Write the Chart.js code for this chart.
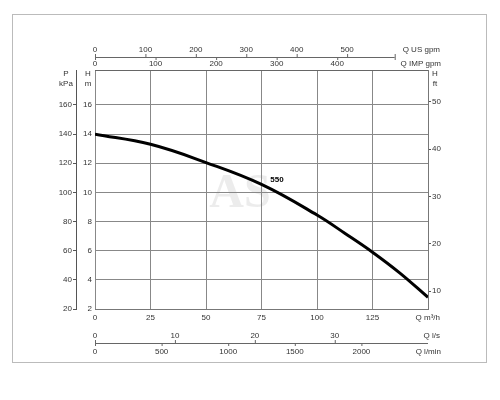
<!DOCTYPE html>
<html><head><script src="https://cdn.jsdelivr.net/npm/chart.js@4"></script>
<style>body{margin:0;background:#fff}#w{width:500px;height:400px}</style></head>
<body><div id="w"><canvas id="c"></canvas></div>
<script>
const flowM3h = [0, 25, 50, 75, 100, 112.5, 125, 137.5, 150];
const headM   = [14.0, 13.3, 12.05, 10.55, 8.45, 7.2, 5.9, 4.45, 2.8];
const curveName = "550";
const qTicks = [0, 25, 50, 75, 100, 125];
const hTicks = [2, 4, 6, 8, 10, 12, 14, 16];
const usGpm = [0, 100, 200, 300, 400, 500];
const impGpm = [0, 100, 200, 300, 400];
const lps = [0, 10, 20, 30];
const lpm = [0, 500, 1000, 1500, 2000];
const FONT = "Liberation Sans, Arial, sans-serif";
const C = "#333";

const extras = {
  id: "extras",
  beforeDraw(ch) {
    const g = ch.ctx; g.save();
    g.strokeStyle = "#bbb"; g.lineWidth = 1;
    g.strokeRect(12.5, 14.5, 474, 348);
    g.fillStyle = "rgba(200,200,200,0.35)";
    g.font = "bold 48px Liberation Serif, serif"; g.textAlign = "center"; g.textBaseline = "middle";
    g.fillText("AS", 240, 195);
    g.restore();
  },
  afterDraw(ch) {
    const g = ch.ctx, x = ch.scales.x, a = ch.chartArea;
    g.save(); g.fillStyle = C; g.strokeStyle = "#666"; g.lineWidth = 1;
    g.beginPath(); g.moveTo(a.left, a.top + 0.5); g.lineTo(a.right, a.top + 0.5); g.stroke();
    g.font = "8px " + FONT; g.textBaseline = "middle";
    const px = v => x.getPixelForValue(v);
    let y = 57;
    g.beginPath(); g.moveTo(px(0), y+0.5); g.lineTo(px(135), y+0.5); g.stroke();
    g.textAlign = "center";
    usGpm.forEach(v => { const p = px(v / 4.403); g.beginPath(); g.moveTo(p+0.5, y-3); g.lineTo(p+0.5, y); g.stroke(); g.fillText(v, p, y-7); });
    impGpm.forEach(v => { const p = px(v / 3.666); g.beginPath(); g.moveTo(p+0.5, y); g.lineTo(p+0.5, y+3); g.stroke(); g.fillText(v, p, y+7); });
    g.beginPath(); g.moveTo(px(135)+0.5, y-3); g.lineTo(px(135)+0.5, y+3); g.stroke();
    g.textAlign = "right"; g.fillText("Q US gpm", 440, y-7); g.fillText("Q IMP gpm", 441, y+7);
    y = 343;
    g.beginPath(); g.moveTo(px(0), y+0.5); g.lineTo(px(150), y+0.5); g.stroke();
    g.textAlign = "center";
    lps.forEach(v => { const p = px(v * 3.6); g.beginPath(); g.moveTo(p+0.5, y-3); g.lineTo(p+0.5, y); g.stroke(); g.fillText(v, p, y-7); });
    lpm.forEach(v => { const p = px(v * 0.06); g.beginPath(); g.moveTo(p+0.5, y); g.lineTo(p+0.5, y+3); g.stroke(); g.fillText(v, p, y+9); });
    g.beginPath(); g.moveTo(px(0)+0.5, y-3); g.lineTo(px(0)+0.5, y+3); g.stroke();
    g.textAlign = "right"; g.fillText("Q l/s", 440, y-7); g.fillText("Q l/min", 441, y+9);
    g.fillText("Q m³/h", 440, 318);
    g.textAlign = "center";
    g.fillText("P", 66, 74); g.fillText("kPa", 66, 84);
    g.fillText("H", 88, 74); g.fillText("m", 88, 84);
    g.fillText("H", 435, 74); g.fillText("ft", 435, 84);
    g.fillStyle = "#000"; g.font = "bold 8px " + FONT;
    g.fillText(curveName, 277, 180);
    g.restore();
  }
};

new Chart(document.getElementById("c"), {
  type: "line",
  data: { datasets: [{ yAxisID: "y", data: flowM3h.map((q, i) => ({ x: q, y: headM[i] })), borderColor: "#000", borderWidth: 3, pointRadius: 0, tension: 0.4 }] },
  options: {
    responsive: true, maintainAspectRatio: false, animation: false,
    layout: { padding: { left: 45, right: 50, top: 70, bottom: 71 } },
    plugins: { legend: { display: false }, tooltip: { enabled: false } },
    scales: {
      x: { type: "linear", min: 0, max: 150,
        afterBuildTicks: s => { s.ticks = qTicks.concat([150]).map(v => ({ value: v })); },
        afterFit: s => { s.height = 20; },
        border: { display: true, color: "#777" },
        grid: { color: "#888", tickLength: 0 },
        ticks: { color: C, font: { size: 8, family: FONT }, padding: 4, callback: v => v === 150 ? "" : v } },
      y: { position: "left", min: 2, max: 18.4,
        afterBuildTicks: s => { s.ticks = hTicks.map(v => ({ value: v })); },
        afterFit: s => { s.width = 19; },
        border: { display: false },
        grid: { color: "#888", tickLength: 0 },
        ticks: { color: C, font: { size: 8, family: FONT }, padding: 3 } },
      p: { position: "left", min: 20, max: 184,
        afterBuildTicks: s => { s.ticks = hTicks.map(v => ({ value: v * 10 })); },
        afterFit: s => { s.width = 31; },
        border: { display: true, color: "#555" },
        grid: { drawOnChartArea: false, tickLength: 3, color: "#555" },
        ticks: { color: C, font: { size: 8, family: FONT }, padding: 1 } },
      ft: { position: "right", min: 6.2, max: 56.7,
        afterBuildTicks: s => { s.ticks = [10, 20, 30, 40, 50].map(v => ({ value: v })); },
        afterFit: s => { s.width = 22; },
        border: { display: true, color: "#777" },
        grid: { drawOnChartArea: false, tickLength: 3, color: "#555" },
        ticks: { color: C, font: { size: 8, family: FONT }, padding: 1 } }
    }
  },
  plugins: [extras]
});
</script></body></html>
